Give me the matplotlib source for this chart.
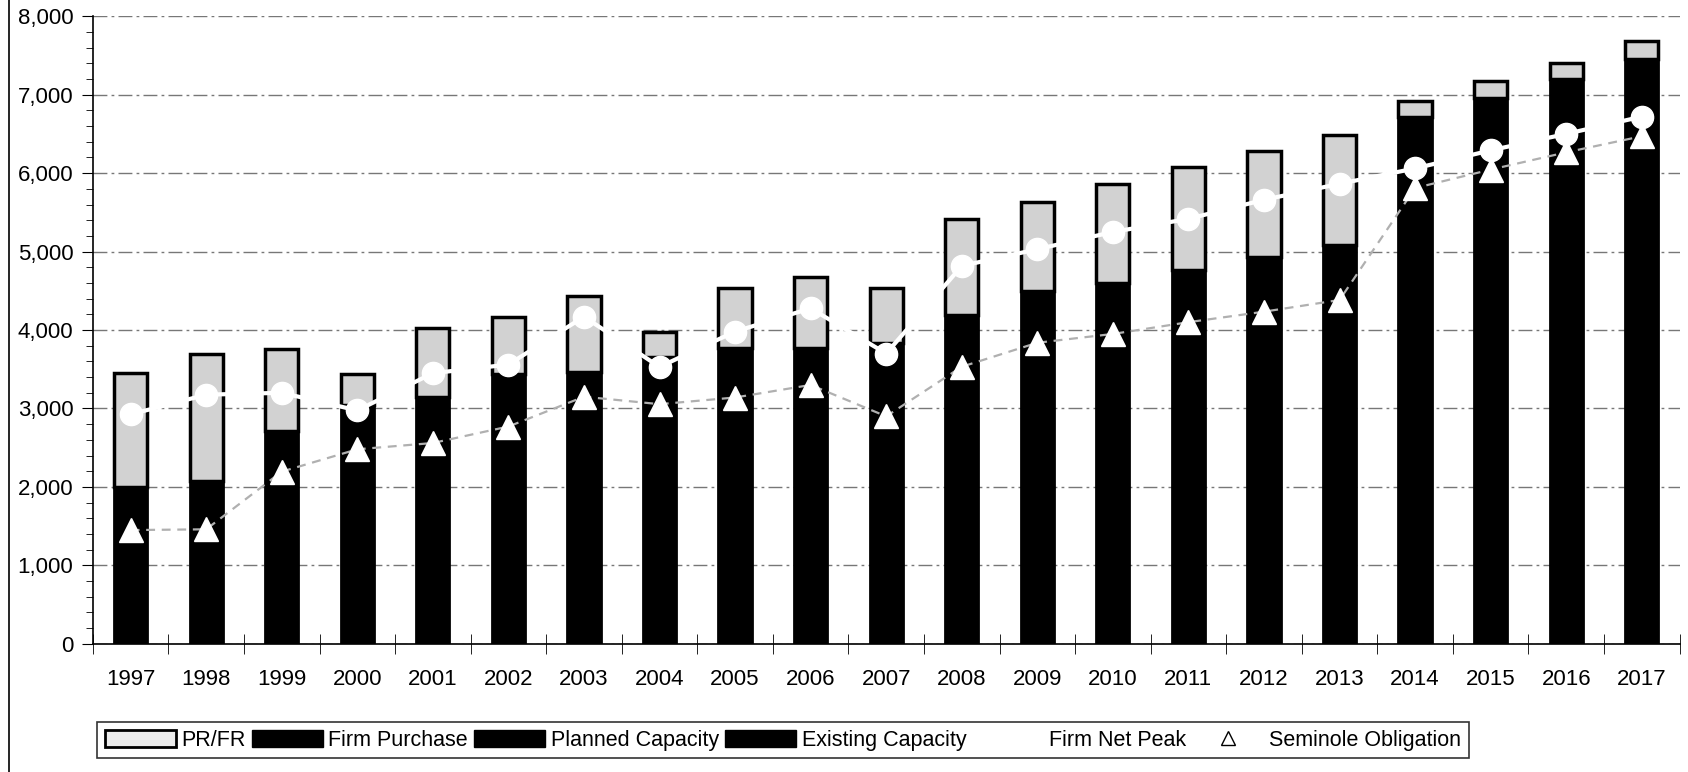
import numpy as np
import matplotlib
matplotlib.use("Agg")
import matplotlib.pyplot as plt
from matplotlib.patches import Patch
from matplotlib.lines import Line2D
from matplotlib.ticker import MultipleLocator, FuncFormatter

plt.rcParams['font.family'] = ['Liberation Sans', 'DejaVu Sans']

years = [str(y) for y in range(1997, 2018)]

# top of each bar (total capacity incl. reserves)
total = [3453, 3690, 3760, 3438, 4020, 4160, 4436, 3980, 4532, 4672, 4532,
         5413, 5626, 5864, 6077, 6280, 6480, 6920, 7170, 7400, 7680]
# black part of the bar (existing + planned + firm purchase, all drawn black)
existing = [2000, 2075, 2713, 3050, 3144, 3440, 3470, 3660, 3766, 3766, 3830,
            4190, 4502, 4600, 4766, 4928, 5085, 6710, 6960, 7200, 7460]
planned = [0] * 21        # not separable from existing in the scan
firm_purchase = [0] * 21  # same
prfr = [t - e for t, e in zip(total, existing)]

firm_net_peak = [2925, 3176, 3200, 2975, 3450, 3560, 4170, 3530, 3980, 4277, 3700,
                 4817, 5030, 5250, 5417, 5660, 5864, 6060, 6290, 6500, 6720]
seminole = [1450, 1460, 2195, 2480, 2560, 2770, 3150, 3055, 3140, 3300, 2900,
            3532, 3838, 3950, 4100, 4234, 4383, 5810, 6045, 6265, 6470]

fig = plt.figure(figsize=(16.88, 7.72), dpi=100)
ax = fig.add_axes([0.055, 0.166, 0.940, 0.813])

x = np.arange(len(years))
w = 0.44
b1 = np.array(existing)
b2 = b1 + np.array(planned)
b3 = b2 + np.array(firm_purchase)

ax.bar(x, existing, w, color='black', edgecolor='black', lw=2, zorder=2)
ax.bar(x, planned, w, bottom=b1, color='black', edgecolor='black', lw=0, zorder=2)
ax.bar(x, firm_purchase, w, bottom=b2, color='black', edgecolor='black', lw=0, zorder=2)
ax.bar(x, prfr, w, bottom=b3, color='#d2d2d2', edgecolor='black', lw=2.5, zorder=2)

ax.plot(x, firm_net_peak, color='white', lw=3, marker='o', ms=16,
        mfc='white', mec='white', zorder=4)
ax.plot(x, seminole, color='#b0b0b0', lw=1.6, ls=(0, (4, 3)), marker='^', ms=17,
        mfc='white', mec='white', zorder=3)

ax.set_xlim(-0.5, len(years) - 0.5)
ax.set_ylim(0, 8000)
ax.yaxis.set_major_locator(MultipleLocator(1000))
ax.yaxis.set_minor_locator(MultipleLocator(200))
ax.yaxis.set_major_formatter(FuncFormatter(lambda v, p: f'{int(v):,}'))
ax.tick_params(axis='y', which='major', direction='out', length=8, labelsize=16, pad=6)
ax.tick_params(axis='y', which='minor', direction='out', length=5)

ax.set_xticks(x)
ax.set_xticklabels(years)
ax.set_xticks(np.arange(len(years) + 1) - 0.5, minor=True)
ax.tick_params(axis='x', which='major', length=0, labelsize=16, pad=18)
ax.tick_params(axis='x', which='minor', direction='inout', length=14)

ax.yaxis.grid(True, color='#777777', lw=1, ls=(0, (10, 3, 2, 3)))
ax.set_axisbelow(True)
for s in ['top', 'right']:
    ax.spines[s].set_visible(False)
for s in ['left', 'bottom']:
    ax.spines[s].set_color('black')
    ax.spines[s].set_linewidth(1.2)

handles = [
    Patch(facecolor='#ececec', edgecolor='black', lw=2),
    Patch(facecolor='black', edgecolor='black'),
    Patch(facecolor='black', edgecolor='black'),
    Patch(facecolor='black', edgecolor='black'),
    Line2D([], [], color='white', marker='o', mfc='white', mec='white', ms=10),
    Line2D([], [], color='white', marker='^', mfc='white', mec='black', ms=10, mew=1),
]
labels = ['PR/FR', 'Firm Purchase', 'Planned Capacity', 'Existing Capacity',
          'Firm Net Peak', 'Seminole Obligation']
leg = fig.legend(handles, labels, loc='lower left', bbox_to_anchor=(0.055, 0.012),
                 ncol=6, fontsize=15.5, frameon=True, fancybox=False,
                 edgecolor='black', handlelength=3.3, handleheight=0.9,
                 columnspacing=0.3, handletextpad=0.25, borderpad=0.35,
                 borderaxespad=0.2)
leg.get_frame().set_linewidth(1.2)

# scan edge on the left
fig.add_artist(Line2D([0.0055, 0.0055], [0, 1], color='black', lw=1.2))

fig.savefig('out.png', dpi=100)
